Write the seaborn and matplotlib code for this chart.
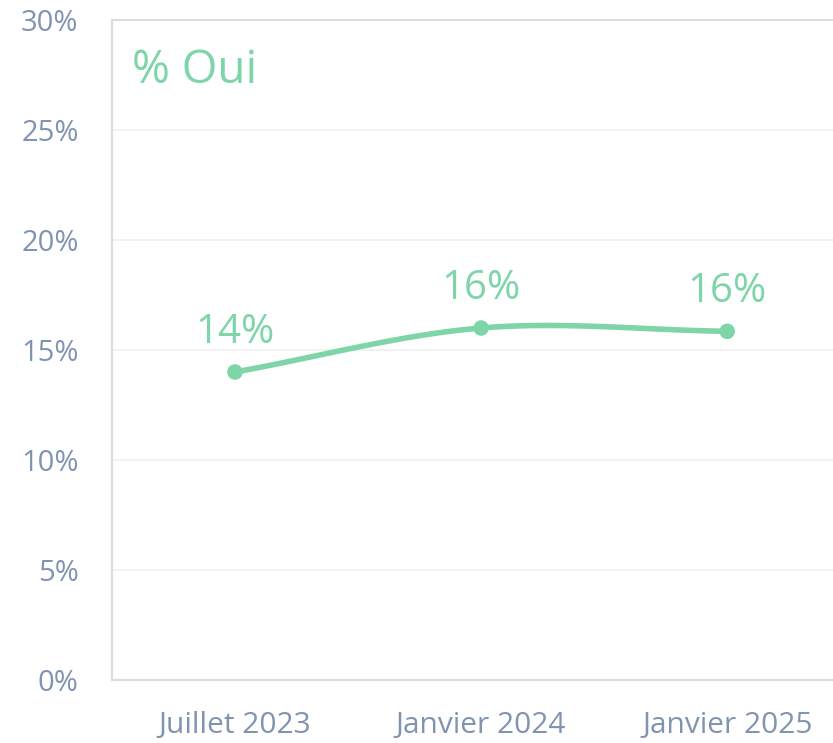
import numpy as np
import pandas as pd
import matplotlib
matplotlib.use("Agg")
import matplotlib.pyplot as plt
import seaborn as sns

categories = ["Juillet 2023", "Janvier 2024", "Janvier 2025"]
values = [14.0, 16.0, 15.85]
labels = ["14%", "16%", "16%"]
yticks = [0, 5, 10, 15, 20, 25, 30]
series_name = "% Oui"

GREEN = "#7dd5a8"
TXT = "#8094b0"

sns.set_theme(style="white")
plt.rcParams["font.family"] = ["Open Sans", "DejaVu Sans"]

fig = plt.figure(figsize=(8.33, 7.43), dpi=100)
ax = fig.add_axes([112/833, 1-680/743, 1-112/833, (680-20)/743])

# Catmull-Rom smoothing through the data points
x = np.arange(len(values), dtype=float)
y = np.array(values, dtype=float)
px = np.concatenate([[2*x[0]-x[1]], x, [2*x[-1]-x[-2]]])
py = np.concatenate([[2*y[0]-y[1]], y, [2*y[-1]-y[-2]]])
xs, ys = [], []
t = np.linspace(0, 1, 60)
for i in range(1, len(px)-2):
    p0, p1, p2, p3 = px[i-1], px[i], px[i+1], px[i+2]
    q0, q1, q2, q3 = py[i-1], py[i], py[i+1], py[i+2]
    def cr(a0, a1, a2, a3):
        return 0.5*((2*a1) + (-a0+a2)*t + (2*a0-5*a1+4*a2-a3)*t**2 + (-a0+3*a1-3*a2+a3)*t**3)
    xs.append(cr(p0, p1, p2, p3)); ys.append(cr(q0, q1, q2, q3))
curve = pd.DataFrame({"x": np.concatenate(xs), "y": np.concatenate(ys)})
pts = pd.DataFrame({"x": x, "y": y})

sns.lineplot(data=curve, x="x", y="y", ax=ax, color=GREEN, linewidth=4.0, sort=False)
sns.scatterplot(data=pts, x="x", y="y", ax=ax, color=GREEN, s=125, edgecolor="none", zorder=5)

for xi, yi, lab in zip(x, y, labels):
    ax.annotate(lab, (xi, yi), xytext=(0, 21), textcoords="offset points",
                ha="center", va="baseline", fontsize=29, color=GREEN)

ax.text(132/833, 1-83/743, series_name, transform=fig.transFigure, fontsize=33,
        color=GREEN, ha="left", va="baseline")

ax.set_xlim(-0.5, 2.43)
ax.set_ylim(0, 30)
ax.set_xticks(x)
ax.set_xticklabels(categories)
ax.set_yticks(yticks)
ax.set_yticklabels([f"{v}%" for v in yticks])
ax.set_xlabel("")
ax.set_ylabel("")
ax.grid(axis="y", color="#efefef", linewidth=1.2)
ax.set_axisbelow(True)
for s in ["left", "bottom", "top"]:
    ax.spines[s].set_color("#dcdcdc")
    ax.spines[s].set_linewidth(1.5)
ax.spines["right"].set_visible(False)
ax.tick_params(axis="both", length=0, colors=TXT)
ax.tick_params(axis="y", pad=24, labelsize=21)
ax.tick_params(axis="x", pad=22, labelsize=21.5)

fig.savefig("out.png", dpi=100)
